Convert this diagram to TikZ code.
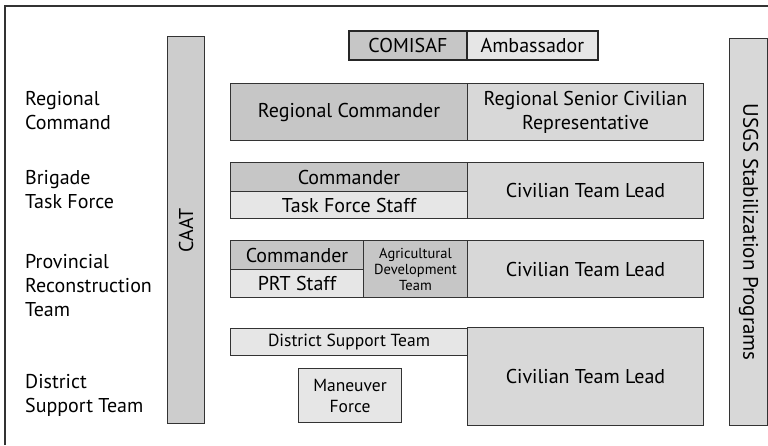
\documentclass[tikz,border=0pt]{standalone}
\usepackage{fontspec}
\setmainfont{PT Sans}
\usetikzlibrary{positioning}

\definecolor{darkcell}{HTML}{C6C6C6}
\definecolor{midcell}{HTML}{D8D8D8}
\definecolor{lightcell}{HTML}{E6E6E6}
\definecolor{barcell}{HTML}{CDCDCD}
\definecolor{edgegray}{HTML}{333333}

\tikzset{
    cell/.style={draw=edgegray, line width=1pt, inner sep=0pt, anchor=north west,
        align=center, font=\fontsize{20}{24}\selectfont},
    darkbox/.style={cell, fill=darkcell},
    midbox/.style={cell, fill=midcell},
    lightbox/.style={cell, fill=lightcell},
    toplead/.style={line width=1.8pt, draw=black!85},
    smalltext/.style={font=\fontsize{17.5}{21}\selectfont},
    tinytext/.style={font=\fontsize{14.5}{16}\selectfont},
    level/.style={anchor=west, align=left, inner sep=0pt, font=\fontsize{20}{24}\selectfont},
}

\begin{document}
\begin{tikzpicture}[x=1pt, y=-1pt]
    \useasboundingbox (0,0) rectangle (768,445);
    % outer frame
    \draw [edgegray, line width=1.4pt] (5,445) -- (5,6) -- (768,6);

    % levels
    \node (lvRC)  [level] at (25,111)  {Regional\\Command};
    \node (lvBTF) [level] at (25,190)  {Brigade\\Task Force};
    \node (lvPRT) [level] at (25,286)  {Provincial\\Reconstruction\\Team};
    \node (lvDST) [level] at (25,395)  {District\\Support Team};

    % side bars
    \node (CAAT) [cell, fill=barcell, minimum width=37, minimum height=387] at (167,36) {};
    \node [rotate=90, font=\fontsize{20}{24}\selectfont] at (CAAT.center) {CAAT};
    \node (USGS) [midbox, minimum width=38, minimum height=387] at (729,38) {};
    \node [rotate=-90, font=\fontsize{21}{24}\selectfont] at (USGS.center) {USGS Stabilization Programs};

    % top
    \node (COMISAF) [darkbox, toplead, minimum width=118, minimum height=29] at (348,30) {COMISAF};
    \node (Amb) [lightbox, toplead, minimum width=131, minimum height=29] at (466,30) {Ambassador};

    % regional command
    \node (RCcmd) [darkbox, minimum width=237, minimum height=57] at (230,83) {Regional Commander};
    \node (RCciv) [midbox, minimum width=236, minimum height=57] at (467,83) {Regional Senior Civilian\\Representative};

    % brigade task force
    \node (BTFcmd) [darkbox, minimum width=237, minimum height=29] at (230,162) {Commander};
    \node (BTFstaff) [lightbox, minimum width=237, minimum height=27] at (230,191) {Task Force Staff};
    \node (BTFciv) [midbox, minimum width=236, minimum height=56] at (467,162) {Civilian Team Lead};

    % provincial reconstruction team
    \node (PRTcmd) [darkbox, minimum width=133, minimum height=29] at (230,240) {Commander};
    \node (PRTstaff) [lightbox, minimum width=133, minimum height=28] at (230,269) {PRT Staff};
    \node (ADT) [darkbox, tinytext, minimum width=104, minimum height=57] at (363,240) {Agricultural\\Development\\Team};
    \node (PRTciv) [midbox, minimum width=236, minimum height=57] at (467,240) {Civilian Team Lead};

    % district support team
    \node (DST) [lightbox, smalltext, minimum width=237, minimum height=27] at (230,328) {District Support Team};
    \node (Manv) [lightbox, smalltext, minimum width=103, minimum height=54] at (298,368) {Maneuver\\Force};
    \node (DSTciv) [midbox, minimum width=236, minimum height=98] at (467,327) {Civilian Team Lead};
\end{tikzpicture}
\end{document}
